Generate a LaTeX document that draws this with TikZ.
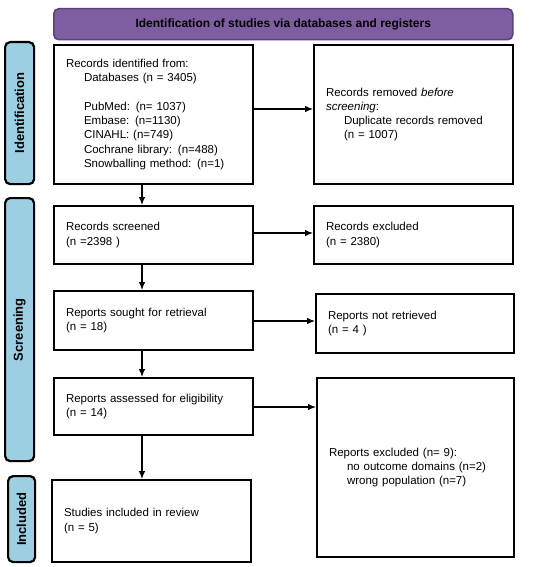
\documentclass[tikz,border=0pt]{standalone}
\usepackage{fontspec}
\setmainfont{Liberation Sans}
\usetikzlibrary{arrows.meta}
\definecolor{bannerfill}{RGB}{126,94,160}
\definecolor{bannerdraw}{RGB}{92,64,124}
\definecolor{sidefill}{RGB}{155,207,225}
\tikzset{
  box/.style={draw=black, line width=2pt, fill=white, align=left, inner xsep=12pt, inner ysep=0pt,
    font=\fontsize{11.5}{14.3}\selectfont, anchor=north west},
  side/.style={draw=black, line width=2.2pt, fill=sidefill, rounded corners=5pt, anchor=north west,
    inner sep=0pt},
  sidelabel/.style={rotate=90, font=\fontsize{13}{14}\selectfont\bfseries},
  arr/.style={-{Latex[length=8pt,width=6.5pt]}, line width=1.1pt},
}
\newcommand{\ind}{\hspace*{18pt}}
\begin{document}
\begin{tikzpicture}[x=1pt,y=-1pt]
\useasboundingbox (0,0) rectangle (550,567);
% banner
\node[draw=bannerdraw, line width=1.5pt, fill=bannerfill, rounded corners=5pt, minimum width=459pt, minimum height=31pt,
  anchor=north west, font=\fontsize{12}{13}\selectfont\bfseries] (banner) at (53,8) {Identification of studies via databases and registers};
% side boxes
\node[side, minimum width=29pt, minimum height=142pt] (sid) at (4,41) {};
\node[sidelabel] (sidl) at (sid.center) {Identification};
\node[side, minimum width=29pt, minimum height=263pt] (ssc) at (4,197) {};
\node[sidelabel] (sscl) at (ssc.center) {Screening};
\node[side, minimum width=27pt, minimum height=86pt] (sin) at (7,475) {};
\node[sidelabel] (sinl) at (sin.center) {Included};
% left boxes
\node[box, text width=175pt, minimum height=139pt] (b1) at (53,44) {Records identified from:\\
\ind Databases (n = 3405)\\[14.3pt]
\ind PubMed: (n= 1037)\\
\ind Embase: (n=1130)\\
\ind CINAHL: (n=749)\\
\ind Cochrane library: (n=488)\\
\ind Snowballing method: (n=1)};
\node[box, text width=175pt, minimum height=58pt] (b2) at (53,205) {Records screened\\(n =2398 )};
\node[box, text width=175pt, minimum height=59pt] (b3) at (53,290) {Reports sought for retrieval\\(n = 18)};
\node[box, text width=175pt, minimum height=57pt] (b4) at (53,377) {Reports assessed for eligibility\\(n = 14)};
\node[box, text width=175pt, minimum height=82pt] (b5) at (51,479) {Studies included in review\\(n = 5)};
% right boxes
\node[box, text width=175pt, minimum height=139pt] (r1) at (313,44) {Records removed \textit{before}\\
\textit{screening}:\\
\ind Duplicate records removed\\
\ind (n = 1007)};
\node[box, text width=175pt, minimum height=58pt] (r2) at (313,205) {Records excluded\\(n = 2380)};
\node[box, text width=174pt, minimum height=59pt] (r3) at (315,293) {Reports not retrieved\\(n = 4 )};
\node[box, text width=173pt, minimum height=179pt] (r4) at (316,377) {Reports excluded (n= 9):\\
\ind no outcome domains (n=2)\\
\ind wrong population (n=7)};
% arrows
\coordinate (c1) at (142,183);
\draw[arr] (b1.south -| c1) -- (b2.north -| c1);
\draw[arr] (b2.south -| c1) -- (b3.north -| c1);
\draw[arr] (b3.south -| c1) -- (b4.north -| c1);
\draw[arr] (b4.south -| c1) -- (b5.north -| c1);
\draw[arr] (b1.east |- 0,109) -- (r1.west |- 0,109);
\draw[arr] (b2.east |- 0,233) -- (r2.west |- 0,233);
\draw[arr] (b3.east |- 0,321) -- (r3.west |- 0,321);
\draw[arr] (b4.east |- 0,407) -- (r4.west |- 0,407);
\end{tikzpicture}
\end{document}
